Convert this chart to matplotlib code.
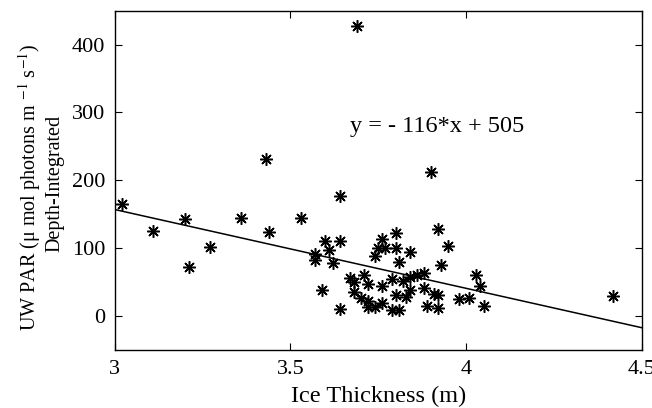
import numpy as np
import matplotlib
matplotlib.use("Agg")
import matplotlib.pyplot as plt

plt.rcParams["font.family"] = ["Liberation Serif", "DejaVu Serif"]
plt.rcParams["mathtext.fontset"] = "stix"

# ice thickness (m)
ice = [3.02, 3.11, 3.20, 3.21, 3.27, 3.36, 3.43, 3.44, 3.53, 3.64,
       3.60, 3.64, 3.57, 3.61, 3.57, 3.62, 3.59, 3.64, 3.67, 3.68,
       3.71, 3.72, 3.68, 3.70, 3.72, 3.72, 3.74, 3.76, 3.76, 3.79,
       3.79, 3.81, 3.80, 3.82, 3.84, 3.83, 3.84, 3.86, 3.88, 3.88,
       3.91, 3.92, 3.89, 3.92, 3.98, 4.01, 4.05, 4.03, 4.04, 3.76,
       3.75, 3.77, 3.80, 3.74, 3.80, 3.81, 3.84, 3.92, 3.95, 3.93,
       3.69, 3.90, 4.42]
# depth-integrated UW PAR
par = [165, 126, 143, 72, 102, 145, 231, 124, 145, 177,
       110, 111, 92, 97, 82, 78, 38, 10, 56, 50,
       61, 48, 35, 26, 22, 13, 13, 20, 45, 54,
       9, 9, 31, 51, 38, 28, 57, 60, 64, 42,
       32, 31, 15, 12, 25, 26, 15, 61, 44, 113,
       101, 101, 100, 88, 123, 79, 95, 129, 103, 75,
       427, 212, 29]

slope, intercept = -116, 505

fig = plt.figure(figsize=(6.52, 4.08), dpi=100)
ax = fig.add_axes([0.176, 0.142, 0.808, 0.832])

ax.plot(ice, par, linestyle="none", marker=(8, 2, 0), markersize=9,
        markeredgewidth=1.1, color="black")
xs = np.array([3.0, 4.5])
ax.plot(xs, slope * xs + intercept, color="black", linewidth=1.1)

ax.text(3.67, 280, "y = - 116*x + 505", fontsize=17.5, va="center")

ax.set_xlim(3, 4.5)
ax.set_ylim(-50, 450)
ax.set_xticks([3, 3.5, 4, 4.5])
ax.set_xticklabels(["3", "3.5", "4", "4.5"])
ax.set_yticks([0, 100, 200, 300, 400])
ax.tick_params(direction="in", top=True, right=True, labelsize=16, length=5, pad=7)
for s in ax.spines.values():
    s.set_linewidth(1.0)

ax.set_xlabel("Ice Thickness (m)", fontsize=17.5, labelpad=5)

# two-line y label, placed line by line
fig.text(0.046, 0.542, "UW PAR (μ mol photons m $^{-1}$ s$^{-1}$)",
         rotation=90, ha="center", va="center", fontsize=14.5)
fig.text(0.084, 0.551, "Depth-Integrated",
         rotation=90, ha="center", va="center", fontsize=14.5)

fig.savefig("out.png", dpi=100)
